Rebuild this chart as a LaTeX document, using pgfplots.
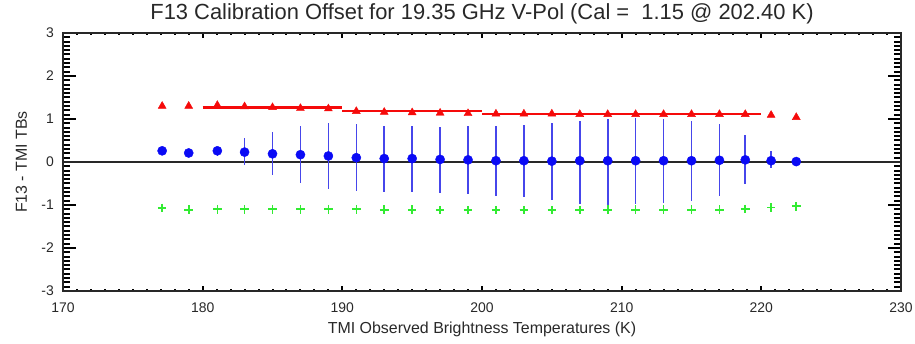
\documentclass[border=0pt]{standalone}
\usepackage{pgfplots}
\pgfplotsset{compat=1.18}
\usepackage{fontspec}
\setmainfont{Liberation Sans}
\definecolor{tri}{RGB}{245,10,10}
\definecolor{dot}{RGB}{10,10,245}
\definecolor{bar}{RGB}{70,70,235}
\definecolor{crs}{RGB}{50,235,50}
\definecolor{axc}{RGB}{40,40,40}
\pgfplotsset{
  base/.style={
    scale only axis, width=838bp, height=258bp,
    xmin=170, xmax=230, ymin=-3, ymax=3,
    axis line style={draw=axc, line width=1.2bp},
    tick align=inside,
    every tick/.style={black, line width=2bp},
    /pgf/number format/assume math mode=true,
    ticklabel style={font=\fontsize{14}{16}\selectfont, text=axc},
  }
}
\begin{document}
\begin{tikzpicture}
\begin{axis}[base,
  xtick=\empty, ytick={-3,-2,...,3}, minor ytick={-2.9,-2.8,...,2.95},
  major tick length=13bp, minor tick length=7bp,
  yticklabel style={anchor=east, inner sep=0pt, xshift=-9bp},
  title={F13 Calibration Offset for 19.35 GHz V-Pol (Cal =\ \ 1.15 @ 202.40 K)},
  title style={at={(rel axis cs:0.5,1)}, anchor=base, yshift=8bp, font=\fontsize{22}{24}\selectfont, text=axc, inner sep=0pt},
  xlabel={TMI Observed Brightness Temperatures (K)},
  every axis x label/.style={at={(rel axis cs:0.5,0)}, anchor=base, yshift=-42bp, font=\fontsize{16}{18}\selectfont, text=axc, inner sep=0pt},
  ylabel={F13 - TMI TBs},
  every axis y label/.style={at={(rel axis cs:0,0.5)}, rotate=90, anchor=base, yshift=36bp, font=\fontsize{16}{18}\selectfont, text=axc, inner sep=0pt},
  clip=false,
]
% zero line
\addplot[axc, line width=1.2bp] coordinates {(170,0) (230,0)};
% spread bars
\addplot[bar, line width=1.6bp, mark=none, draw=none,
  error bars/.cd, y dir=both, y explicit,
  error bar style={bar, line width=1.6bp}, error mark=none]
coordinates {
(181.05,0.26) += (0,0.10) -= (0,0.13)
(183,0.23) += (0,0.33) -= (0,0.31)
(185,0.19) += (0,0.51) -= (0,0.50)
(187,0.17) += (0,0.66) -= (0,0.66)
(189,0.14) += (0,0.77) -= (0,0.77)
(191,0.10) += (0,0.78) -= (0,0.78)
(193,0.08) += (0,0.76) -= (0,0.78)
(195,0.08) += (0,0.76) -= (0,0.78)
(197,0.06) += (0,0.76) -= (0,0.79)
(199,0.05) += (0,0.78) -= (0,0.79)
(201,0.03) += (0,0.80) -= (0,0.81)
(203,0.03) += (0,0.83) -= (0,0.85)
(205,0.02) += (0,0.89) -= (0,0.90)
(207,0.03) += (0,0.93) -= (0,1.00)
(209,0.03) += (0,0.98) -= (0,1.03)
(211,0.03) += (0,0.99) -= (0,1.01)
(213,0.03) += (0,0.98) -= (0,0.99)
(215,0.03) += (0,0.93) -= (0,0.94)
(217,0.04) += (0,0.84) -= (0,0.82)
(218.85,0.05) += (0,0.58) -= (0,0.57)
(220.7,0.03) += (0,0.22) -= (0,0.17)
};
% red step segments
\addplot[tri, line width=2.4bp] coordinates {(180,1.27) (190,1.27)};
\addplot[tri, line width=2.4bp] coordinates {(190,1.18) (200,1.18)};
\addplot[tri, line width=2.4bp] coordinates {(200,1.12) (220,1.12)};
% red triangles
\addplot[only marks, mark=triangle*, mark size=4.6bp, tri, mark options={draw=tri, fill=tri}] coordinates {
(177.1,1.30) (179.0,1.30) (181.05,1.32) (183,1.29) (185,1.27) (187,1.25) (189,1.24)
(191,1.18) (193,1.16) (195,1.15) (197,1.14) (199,1.13) (201,1.12) (203,1.12)
(205,1.12) (207,1.11) (209,1.11) (211,1.11) (213,1.11) (215,1.11) (217,1.11)
(218.85,1.11) (220.7,1.09) (222.5,1.04)
};
% blue circles
\addplot[only marks, mark=*, mark size=4.6bp, dot, mark options={draw=dot, fill=dot}] coordinates {
(177.1,0.26) (179.0,0.21) (181.05,0.26) (183,0.23) (185,0.19) (187,0.17) (189,0.14)
(191,0.10) (193,0.08) (195,0.08) (197,0.06) (199,0.05) (201,0.03) (203,0.03)
(205,0.02) (207,0.03) (209,0.03) (211,0.03) (213,0.03) (215,0.03) (217,0.04)
(218.85,0.05) (220.7,0.03) (222.5,0.01)
};
% green crosses
\addplot[only marks, mark=+, mark size=4.3bp, crs, mark options={line width=1.6bp}] coordinates {
(177.1,-1.07) (179.0,-1.11) (181.05,-1.10) (183,-1.10) (185,-1.10) (187,-1.10) (189,-1.10)
(191,-1.10) (193,-1.11) (195,-1.11) (197,-1.12) (199,-1.12) (201,-1.12) (203,-1.12)
(205,-1.12) (207,-1.12) (209,-1.11) (211,-1.11) (213,-1.11) (215,-1.11) (217,-1.11)
(218.85,-1.09) (220.7,-1.06) (222.5,-1.03)
};
\end{axis}
\begin{axis}[base,
  xtick={170,180,...,230}, minor xtick={171,172,...,229}, ytick=\empty,
  major tick length=5bp, minor tick length=2.5bp,
  xticklabel style={anchor=north, inner sep=0pt, yshift=-12bp},
]
\addplot[draw=none] coordinates {(170,0) (230,0)};
\end{axis}
\useasboundingbox (-63bp,-53bp) rectangle (852bp,291bp);
\end{tikzpicture}
\end{document}
